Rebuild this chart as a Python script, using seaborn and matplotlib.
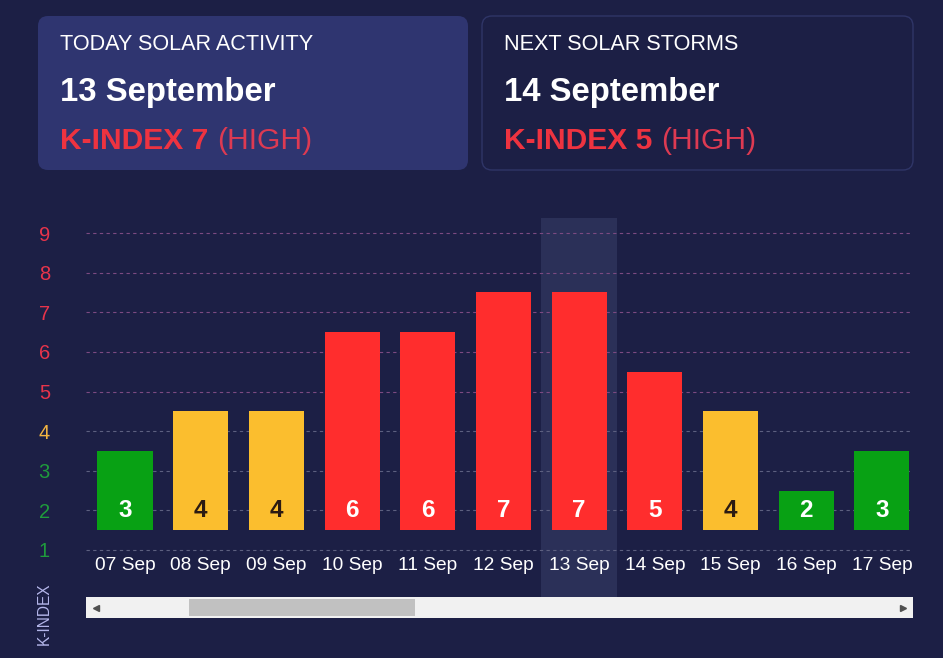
import matplotlib
matplotlib.use("Agg")
import matplotlib.pyplot as plt
import seaborn as sns
from matplotlib.patches import FancyBboxPatch, Rectangle

# data
dates = ["07 Sep", "08 Sep", "09 Sep", "10 Sep", "11 Sep", "12 Sep",
         "13 Sep", "14 Sep", "15 Sep", "16 Sep", "17 Sep"]
kindex = [3, 4, 4, 6, 6, 7, 7, 5, 4, 2, 3]
today = "13 Sep"
y_levels = [1, 2, 3, 4, 5, 6, 7, 8, 9]

cards = [
    ("TODAY SOLAR ACTIVITY", "13 September", "K-INDEX 7", "(HIGH)"),
    ("NEXT SOLAR STORMS", "14 September", "K-INDEX 5", "(HIGH)"),
]

# colours
BG = "#1c1f45"
GREEN, YELLOW, RED = "#08a114", "#fbbe2e", "#ff2d2d"


def level_color(v):
    if v <= 3:
        return GREEN
    if v == 4:
        return YELLOW
    return RED


def tick_color(v):
    if v <= 3:
        return "#1f9b3c"
    if v == 4:
        return "#f3b441"
    return "#e8344b"


sns.set_theme(style="dark")
plt.rcParams["font.family"] = ["Liberation Sans", "DejaVu Sans"]

fig = plt.figure(figsize=(9.43, 6.58), dpi=100, facecolor=BG)

# background layer in pixel coordinates
bg = fig.add_axes([0, 0, 1, 1], zorder=-1)
bg.set_xlim(0, 943)
bg.set_ylim(658, 0)
bg.axis("off")
bg.set_facecolor(BG)

# info cards
card_x = [38, 482]
for i, (title, day, kpart, level) in enumerate(cards):
    x0 = card_x[i]
    if i == 0:
        box = FancyBboxPatch((x0 + 10, 26), 410, 134, boxstyle="round,pad=10,rounding_size=10",
                             facecolor="#2f3570", edgecolor="none")
    else:
        box = FancyBboxPatch((x0 + 10, 26), 411, 134, boxstyle="round,pad=10,rounding_size=10",
                             facecolor=BG, edgecolor="#2f3567", linewidth=1)
    bg.add_patch(box)
    bg.text(x0 + 22, 44, title, color="white", fontsize=15.6, va="center", ha="left")
    bg.text(x0 + 22, 101, day, color="white", fontsize=23.7, fontweight="bold",
            va="baseline", ha="left")
    kt = bg.text(x0 + 22, 149, kpart, color="#ee3340", fontsize=21.6, fontweight="bold",
                 va="baseline", ha="left")
    bg.annotate(level, xy=(1, 149), xycoords=(kt, "data"), xytext=(6.5, 0),
                textcoords="offset points", color="#dd3a52", fontsize=21.6,
                va="baseline", ha="left")

# scrollbar
bg.add_patch(Rectangle((86, 597), 827, 21, facecolor="#f1f1f1", edgecolor="none"))
bg.add_patch(Rectangle((189, 599), 226, 17, facecolor="#c1c1c1", edgecolor="none"))
bg.plot([96], [607.5], marker="<", markersize=5, color="#505050", linestyle="none")
bg.plot([903], [607.5], marker=">", markersize=5, color="#505050", linestyle="none")

# vertical axis title
bg.text(44, 614, "K-INDEX", rotation=90, color="#b4b6ea", fontsize=11.2,
        ha="center", va="center")

# main chart
ax = fig.add_axes([86 / 943, 1 - 597 / 658, 827 / 943, 379 / 658])
ax.set_facecolor("none")

df_colors = {d: level_color(v) for d, v in zip(dates, kindex)}
heights = [v - 1 for v in kindex]
sns.barplot(x=dates, y=heights, hue=dates, palette=df_colors, legend=False,
            saturation=1, width=0.727, bottom=1.5, errorbar=None, ax=ax, zorder=3,
            linewidth=0, edgecolor="none")

# highlighted column for today
ti = dates.index(today)
ax.axvspan(ti - 0.5, ti + 0.5, color="#2b3058", zorder=1, linewidth=0)

# dashed grid
for lv in y_levels:
    gc = "#7c4a82" if lv >= 5 else "#5d6080"
    ax.axhline(lv, color=gc, linewidth=0.8, linestyle=(0, (3, 3)), zorder=2)

# value labels and date labels
for i, (d, v) in enumerate(zip(dates, kindex)):
    tc = "#2b1a12" if v == 4 else "white"
    ax.text(i, 2, str(v), ha="center", va="center", color=tc, fontsize=17.5,
            fontweight="bold", zorder=4)
    ax.text(i, 0.62, d, ha="center", va="center", color="white", fontsize=13.8, zorder=4)

ax.set_xlim(-0.515, 10.41)
ax.set_ylim(-0.187, 9.38)
ax.set_xticks([])
ax.set_yticks(y_levels)
ax.set_yticklabels([str(v) for v in y_levels], fontsize=14.5)
for lab, lv in zip(ax.get_yticklabels(), y_levels):
    lab.set_color(tick_color(lv))
ax.tick_params(axis="y", length=0, pad=26)
ax.set_xlabel("")
ax.set_ylabel("")
for s in ax.spines.values():
    s.set_visible(False)
ax.grid(False)

fig.savefig("out.png", dpi=100, facecolor=BG)
